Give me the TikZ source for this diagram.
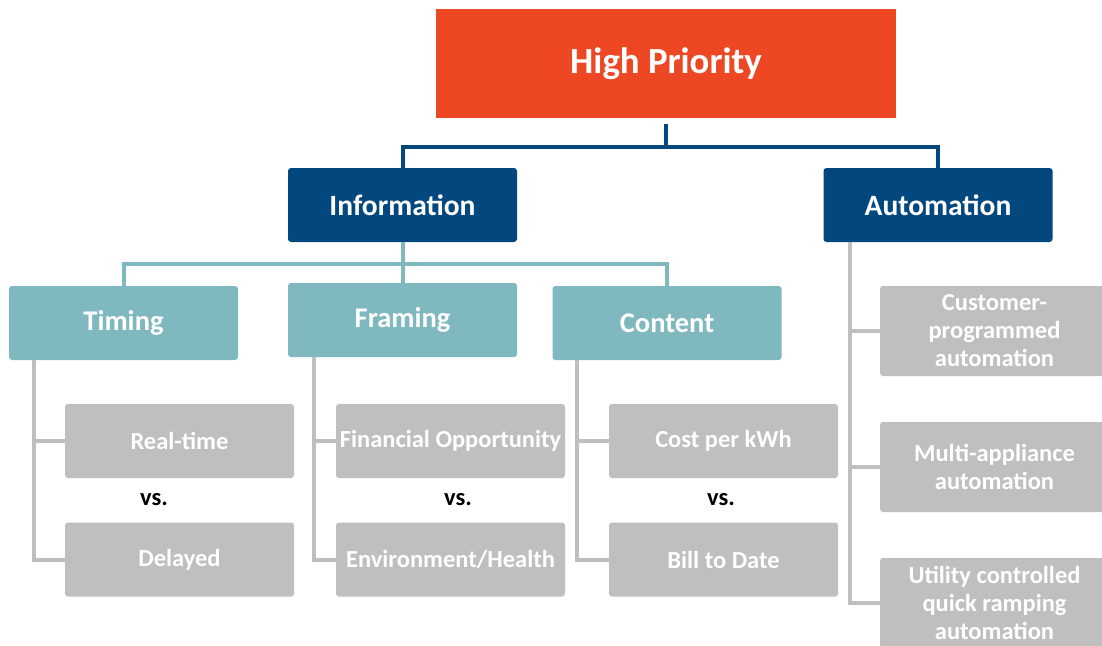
\documentclass[tikz,border=0pt]{standalone}
\usepackage{fontspec}
\setmainfont{Carlito}
\definecolor{prioOrange}{HTML}{EE4723}
\definecolor{infoBlue}{HTML}{03477F}
\definecolor{subTeal}{HTML}{80B8C0}
\definecolor{leafGray}{HTML}{BFBFBF}
\tikzset{
  box/.style={inner sep=0pt, minimum width=229pt, minimum height=74pt,
    rounded corners=3pt, text=white, font=\bfseries\fontsize{24.5}{28}\selectfont, align=center},
  topbox/.style={box, rounded corners=0pt, minimum width=460pt, minimum height=109pt,
    fill=prioOrange, font=\bfseries\fontsize{36.8}{40}\selectfont},
  bluebox/.style={box, fill=infoBlue, font=\bfseries\fontsize{29.5}{33}\selectfont},
  tealbox/.style={box, fill=subTeal, font=\bfseries\fontsize{28.5}{32}\selectfont},
  graybox/.style={box, fill=leafGray},
  autobox/.style={graybox, minimum height=90pt},
  vslabel/.style={inner sep=0pt, text=black, font=\bfseries\fontsize{24.5}{28}\selectfont},
  blueline/.style={draw=infoBlue, line width=4pt},
  tealline/.style={draw=subTeal, line width=4pt},
  grayline/.style={draw=leafGray, line width=4pt},
}
\begin{document}
\begin{tikzpicture}[x=1pt, y=-1pt]
\clip (0,0) rectangle (1102,645);
\fill[white] (0,0) rectangle (1102,645);

% top level
\node[topbox] (hp) at (666,63.5) {High Priority};

% second level
\node[bluebox] (info) at (402.5,205) {Information};
\node[bluebox] (auto) at (938,205) {Automation};

% third level
\node[tealbox] (timing) at (123.5,323) {Timing};
\node[tealbox] (framing) at (402.5,320) {Framing};
\node[tealbox] (content) at (667,323) {Content};

% leaves under Timing / Framing / Content
\node[graybox] (rt) at (179.5,441) {Real-time};
\node[graybox] (del) at (179.5,559.5) {Delayed};
\node[graybox] (fin) at (450.5,441) {Financial Opportunity};
\node[graybox] (env) at (450.5,559.5) {Environment/Health};
\node[graybox] (cost) at (723.5,441) {Cost per kWh};
\node[graybox] (bill) at (723.5,559.5) {Bill to Date};

\node[vslabel] (vs1) at (154,500) {vs.};
\node[vslabel] (vs2) at (458,500) {vs.};
\node[vslabel] (vs3) at (721,500) {vs.};

% leaves under Automation
\node[autobox] (cust) at (994.5,331) {Customer-\\programmed\\automation};
\node[autobox] (multi) at (994.5,467) {Multi-appliance\\automation};
\node[autobox] (util) at (994.5,603) {Utility controlled\\quick ramping\\automation};

% connectors
\draw[blueline] (hp.south) ++(0,6) -- ++(0,23) coordinate (hub1);
\draw[blueline] (hub1) -| (info.north);
\draw[blueline] (hub1) -| (auto.north);

\draw[tealline] (info.south) -- ++(0,22) coordinate (hub2);
\draw[tealline] (hub2) -| (timing.north);
\draw[tealline] (hub2) -| (framing.north);
\draw[tealline] (hub2) -| (content.north);

\draw[grayline] (timing.south west) ++(25,0) coordinate (tv) (tv) |- (rt.west);
\draw[grayline] (tv) |- (del.west);
\draw[grayline] (framing.south west) ++(26,0) coordinate (fv) (fv) |- (fin.west);
\draw[grayline] (fv) |- (env.west);
\draw[grayline] (content.south west) ++(25,0) coordinate (cv) (cv) |- (cost.west);
\draw[grayline] (cv) |- (bill.west);
\draw[grayline] (auto.south west) ++(27,0) coordinate (av) (av) |- (cust.west);
\draw[grayline] (av) |- (multi.west);
\draw[grayline] (av) |- (util.west);
\end{tikzpicture}
\end{document}
